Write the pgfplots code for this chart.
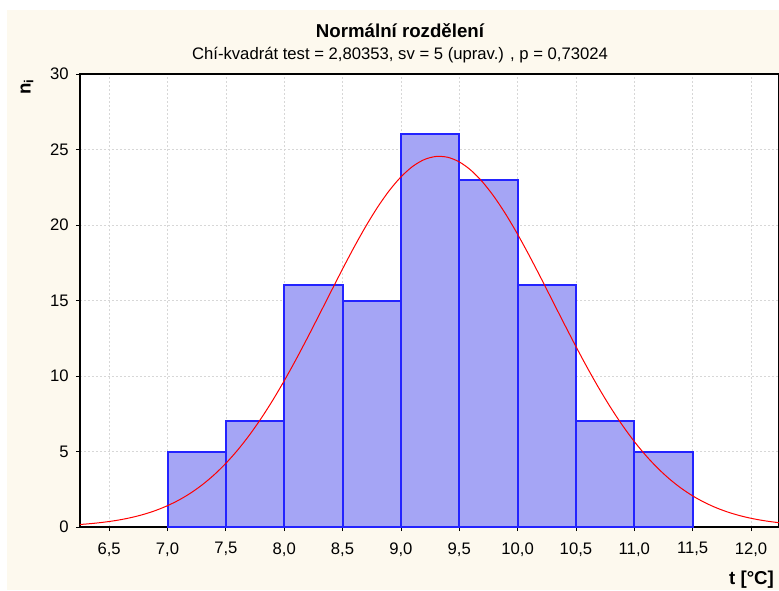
\documentclass[border=0pt]{standalone}
\usepackage{fontspec}
\setmainfont{Liberation Sans}
\usepackage{pgfplots}
\usepackage{pgfplotstable}
\pgfplotsset{compat=1.18}
\definecolor{cream}{RGB}{253,249,238}
\definecolor{barfill}{RGB}{165,165,245}
\definecolor{barline}{RGB}{35,35,255}
\definecolor{gridc}{RGB}{215,215,215}
\pgfplotstableread{
x n
7.0 5
7.5 7
8.0 16
8.5 15
9.0 26
9.5 23
10.0 16
10.5 7
11.0 5
11.5 0
}\bars
\begin{document}
\begin{tikzpicture}
\fill[white] (-60pt,-47.25pt) rectangle (524.25pt,395.25pt);
\fill[cream] (-54.75pt,-47.25pt) rectangle (524.25pt,387.75pt);
\begin{axis}[
  at={(0,0)}, anchor=south west,
  scale only axis, width=524.25pt, height=339.75pt,
  xmin=6.25, xmax=12.24, ymin=0, ymax=30,
  axis background/.style={fill=white},
  xtick={6.5,7.0,7.5,8.0,8.5,9.0,9.5,10.0,10.5,11.0,11.5,12.0},
  ytick={0,5,10,15,20,25,30},
  grid=major,
  major grid style={gridc, dash pattern=on 1.5pt off 1.5pt, line width=0.5pt},
  tick align=outside, tick pos=left, major tick length=3pt,
  axis line style={line width=0.8pt},
  tick style={black, line width=0.6pt},
  /pgf/number format/assume math mode=true,
  tick label style={font=\fontsize{12.5}{14}\selectfont},
  xticklabel style={yshift=-5pt, /pgf/number format/.cd, fixed, fixed zerofill, precision=1, use comma},
  yticklabel style={xshift=-2pt},
]
\addplot[ybar interval, fill=barfill, draw=none] table[x=x, y=n] {\bars};
\addplot[ybar interval, fill=none, draw=barline, line width=1.5pt] table[x=x, y=n] {\bars};
\addplot[red, line width=0.75pt, smooth] coordinates {
  (6.2,0.142) (6.3,0.196) (6.4,0.269) (6.5,0.364) (6.6,0.487) (6.7,0.646) (6.8,0.847) (6.9,1.100)
  (7.0,1.413) (7.1,1.795) (7.2,2.257) (7.3,2.810) (7.4,3.461) (7.5,4.218) (7.6,5.086) (7.7,6.069)
  (7.8,7.167) (7.9,8.374) (8.0,9.683) (8.1,11.078) (8.2,12.543) (8.3,14.052) (8.4,15.577)
  (8.5,17.089) (8.6,18.549) (8.7,19.925) (8.8,21.178) (8.9,22.275) (9.0,23.183) (9.1,23.876)
  (9.2,24.333) (9.3,24.538) (9.4,24.487) (9.5,24.180) (9.6,23.626) (9.7,22.845) (9.8,21.857)
  (9.9,20.694) (10.0,19.387) (10.1,17.973) (10.2,16.488) (10.3,14.966) (10.4,13.444)
  (10.5,11.950) (10.6,10.511) (10.7,9.148) (10.8,7.878) (10.9,6.714) (11.0,5.662) (11.1,4.726)
  (11.2,3.902) (11.3,3.188) (11.4,2.578) (11.5,2.062) (11.6,1.633) (11.7,1.280) (11.8,0.992)
  (11.9,0.761) (12.0,0.577) (12.1,0.434) (12.2,0.322) (12.3,0.237)
};
\end{axis}
\node[font=\bfseries\fontsize{14}{16}\selectfont] at (240pt,372pt) {Normální rozdělení};
\node[font=\fontsize{12.5}{14}\selectfont] at (240pt,354pt) {Chí-kvadrát test = 2,80353, sv = 5 (uprav.) , p = 0,73024};
\node[rotate=90, font=\bfseries\fontsize{14}{16}\selectfont] at (-39.75pt,330pt) {n\textsubscript{i}};
\node[anchor=east, font=\bfseries\fontsize{14}{16}\selectfont] at (524pt,-39.75pt) {t [°C]};
\pgfresetboundingbox
\path (-60pt,-47.25pt) rectangle (524.25pt,395.25pt);
\end{tikzpicture}
\end{document}
